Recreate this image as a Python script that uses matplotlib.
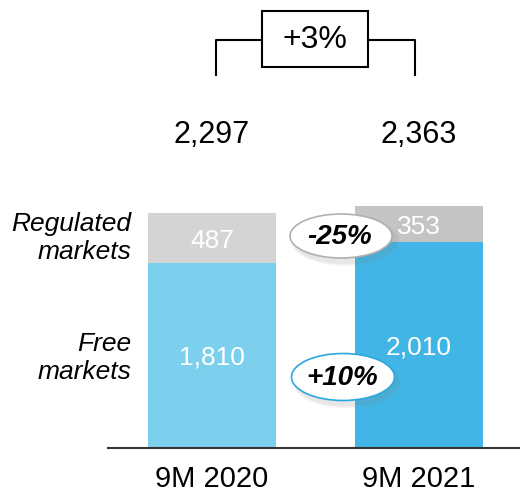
import matplotlib
matplotlib.use("Agg")
import matplotlib.pyplot as plt
from matplotlib.patches import Ellipse, Rectangle

plt.rcParams['font.family'] = ['Liberation Sans', 'DejaVu Sans']

categories = ["9M 2020", "9M 2021"]
free_markets = [1810, 2010]
regulated_markets = [487, 353]
totals = ["2,297", "2,363"]
free_labels = ["1,810", "2,010"]
reg_labels = ["487", "353"]
free_colors = ["#7DCFEE", "#41B6E6"]
reg_colors = ["#D4D4D4", "#C4C4C4"]

W, H = 520, 498
fig = plt.figure(figsize=(W / 100, H / 100), dpi=100)

# main axes: baseline at pixel y=448, spanning x 108..520
ax = fig.add_axes([108 / W, (H - 448) / H, (W - 108) / W, 448 / H])
x = [0, 1]
ax.bar(x, free_markets, width=0.618, color=free_colors, linewidth=0)
ax.bar(x, regulated_markets, bottom=free_markets, width=0.618, color=reg_colors, linewidth=0)
ax.set_xlim(-0.502, 1.488)
ymax = 2297 * 448 / 235
ax.set_ylim(0, ymax)
for s in ["top", "right", "left"]:
    ax.spines[s].set_visible(False)
ax.spines["bottom"].set_color("#333333")
ax.spines["bottom"].set_linewidth(1.5)
ax.set_yticks([])
ax.set_xticks([])

for i in range(2):
    ax.text(x[i], free_markets[i] / 2 - 20, free_labels[i], ha="center", va="center",
            color="white", fontsize=19)
    ax.text(x[i], free_markets[i] + regulated_markets[i] / 2 - 30, reg_labels[i], ha="center",
            va="center", color="white", fontsize=19)

# overlay for annotations in pixel coordinates
ov = fig.add_axes([0, 0, 1, 1], zorder=5)
ov.set_xlim(0, W)
ov.set_ylim(H, 0)
ov.axis("off")
ov.patch.set_alpha(0)

bar_cx = [212, 419]
for i in range(2):
    ov.text(bar_cx[i], 135, totals[i], ha="center", va="center", fontsize=22, color="black")
    ov.text(bar_cx[i], 479, categories[i], ha="center", va="center", fontsize=21, color="black")

ov.text(131, 238, "Regulated\nmarkets", ha="right", va="center", fontsize=19,
        style="italic", linespacing=1.2)
ov.text(131, 358, "Free\nmarkets", ha="right", va="center", fontsize=19,
        style="italic", linespacing=1.2)

# bracket
ov.plot([216, 216, 262], [75, 40, 40], color="black", lw=1.5)
ov.plot([368, 415, 415], [40, 40, 75], color="black", lw=1.5)
ov.add_patch(Rectangle((262, 11), 106, 56, fill=False, edgecolor="black", lw=1.5))
ov.text(315, 40, "+3%", ha="center", va="center", fontsize=23)

# ellipses with soft shadow
def bubble(cx, cy, w, h, edge, label):
    for k, a in enumerate([0.05, 0.06, 0.08]):
        ov.add_patch(Ellipse((cx + 4, cy + 5), w + 6 - 2 * k, h + 6 - 2 * k,
                             facecolor="#808080", edgecolor="none", alpha=a))
    ov.add_patch(Ellipse((cx, cy), w, h, facecolor="white", edgecolor=edge, lw=1.2))
    ov.text(cx - 1, cy + 1, label, ha="center", va="center", fontsize=20,
            fontweight="bold", style="italic")

bubble(341, 236, 102, 44, "#B0B0B0", "-25%")
bubble(343, 377, 103, 47, "#2AA8E0", "+10%")

fig.savefig("out.png", dpi=100)
